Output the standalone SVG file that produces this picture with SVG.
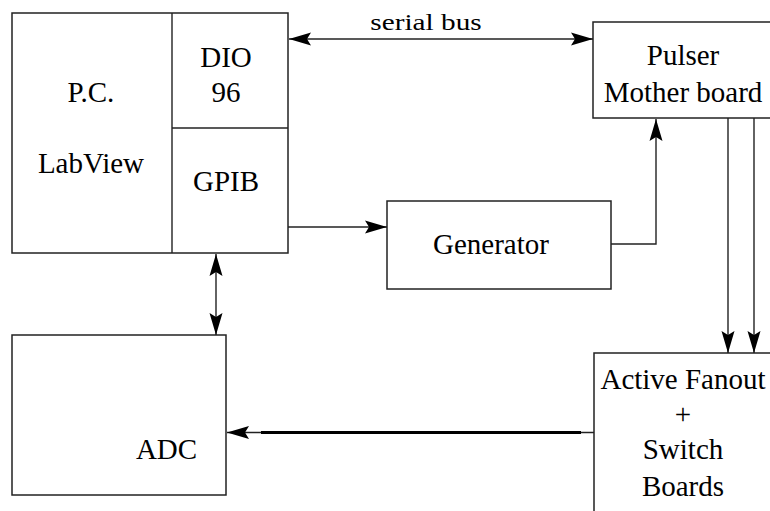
<svg xmlns="http://www.w3.org/2000/svg" width="770" height="511" viewBox="0 0 770 511">
<style>
.box{fill:#fff;stroke:#222;stroke-width:1.5}
.ln{fill:none;stroke:#222;stroke-width:1.4}
text{font-family:"Liberation Serif","Times New Roman",serif;font-size:29px;fill:#000;text-anchor:middle}
</style>
<defs>
<marker id="ah" markerUnits="userSpaceOnUse" markerWidth="24" markerHeight="16" refX="22" refY="7" orient="auto-start-reverse" viewBox="0 0 24 14">
<path d="M22,7 L0,0.5 L4,7 L0,13.5 Z" fill="#000"/>
</marker>
</defs>
<g id="pc">
<rect class="box" x="12" y="13" width="276" height="240"/>
<line class="ln" x1="172" y1="13" x2="172" y2="253"/>
<line class="ln" x1="172" y1="128" x2="288" y2="128"/>
<text x="91" y="101.5">P.C.</text>
<text x="91" y="173">LabView</text>
<text x="226" y="66.5">DIO</text>
<text x="226" y="101.5">96</text>
<text x="226" y="191">GPIB</text>
</g>
<g id="pulser">
<rect class="box" x="593" y="22" width="190" height="96"/>
<text x="683" y="65">Pulser</text>
<text x="683" y="101.5">Mother board</text>
</g>
<g id="generator">
<rect class="box" x="387" y="201" width="224" height="88"/>
<text x="491" y="254">Generator</text>
</g>
<g id="adc">
<rect class="box" x="12" y="335" width="214" height="160"/>
<text x="166.5" y="459">ADC</text>
</g>
<g id="fanout">
<rect class="box" x="594" y="353" width="190" height="170"/>
<text x="683" y="388.5">Active Fanout</text>
<text x="683" y="424">+</text>
<text x="683" y="459">Switch</text>
<text x="683" y="495.5">Boards</text>
</g>
<g id="connectors">
<line class="ln" x1="289" y1="39" x2="593" y2="39" marker-start="url(#ah)" marker-end="url(#ah)"/>
<text transform="translate(426,29.5) scale(1.22,1)" style="font-size:24px">serial bus</text>
<line class="ln" x1="288" y1="227" x2="387" y2="227" marker-end="url(#ah)"/>
<polyline class="ln" points="611,244 656,244 656,119" marker-end="url(#ah)"/>
<line class="ln" x1="728" y1="118" x2="728" y2="353" marker-end="url(#ah)"/>
<line class="ln" x1="754" y1="118" x2="754" y2="353" marker-end="url(#ah)"/>
<line class="ln" x1="216" y1="254" x2="216" y2="335" marker-start="url(#ah)" marker-end="url(#ah)"/>
<line class="ln" x1="594" y1="432.5" x2="227" y2="432.5" marker-end="url(#ah)"/>
<line x1="261" y1="432.5" x2="581" y2="432.5" stroke="#000" stroke-width="3.2"/>
</g>
</svg>
